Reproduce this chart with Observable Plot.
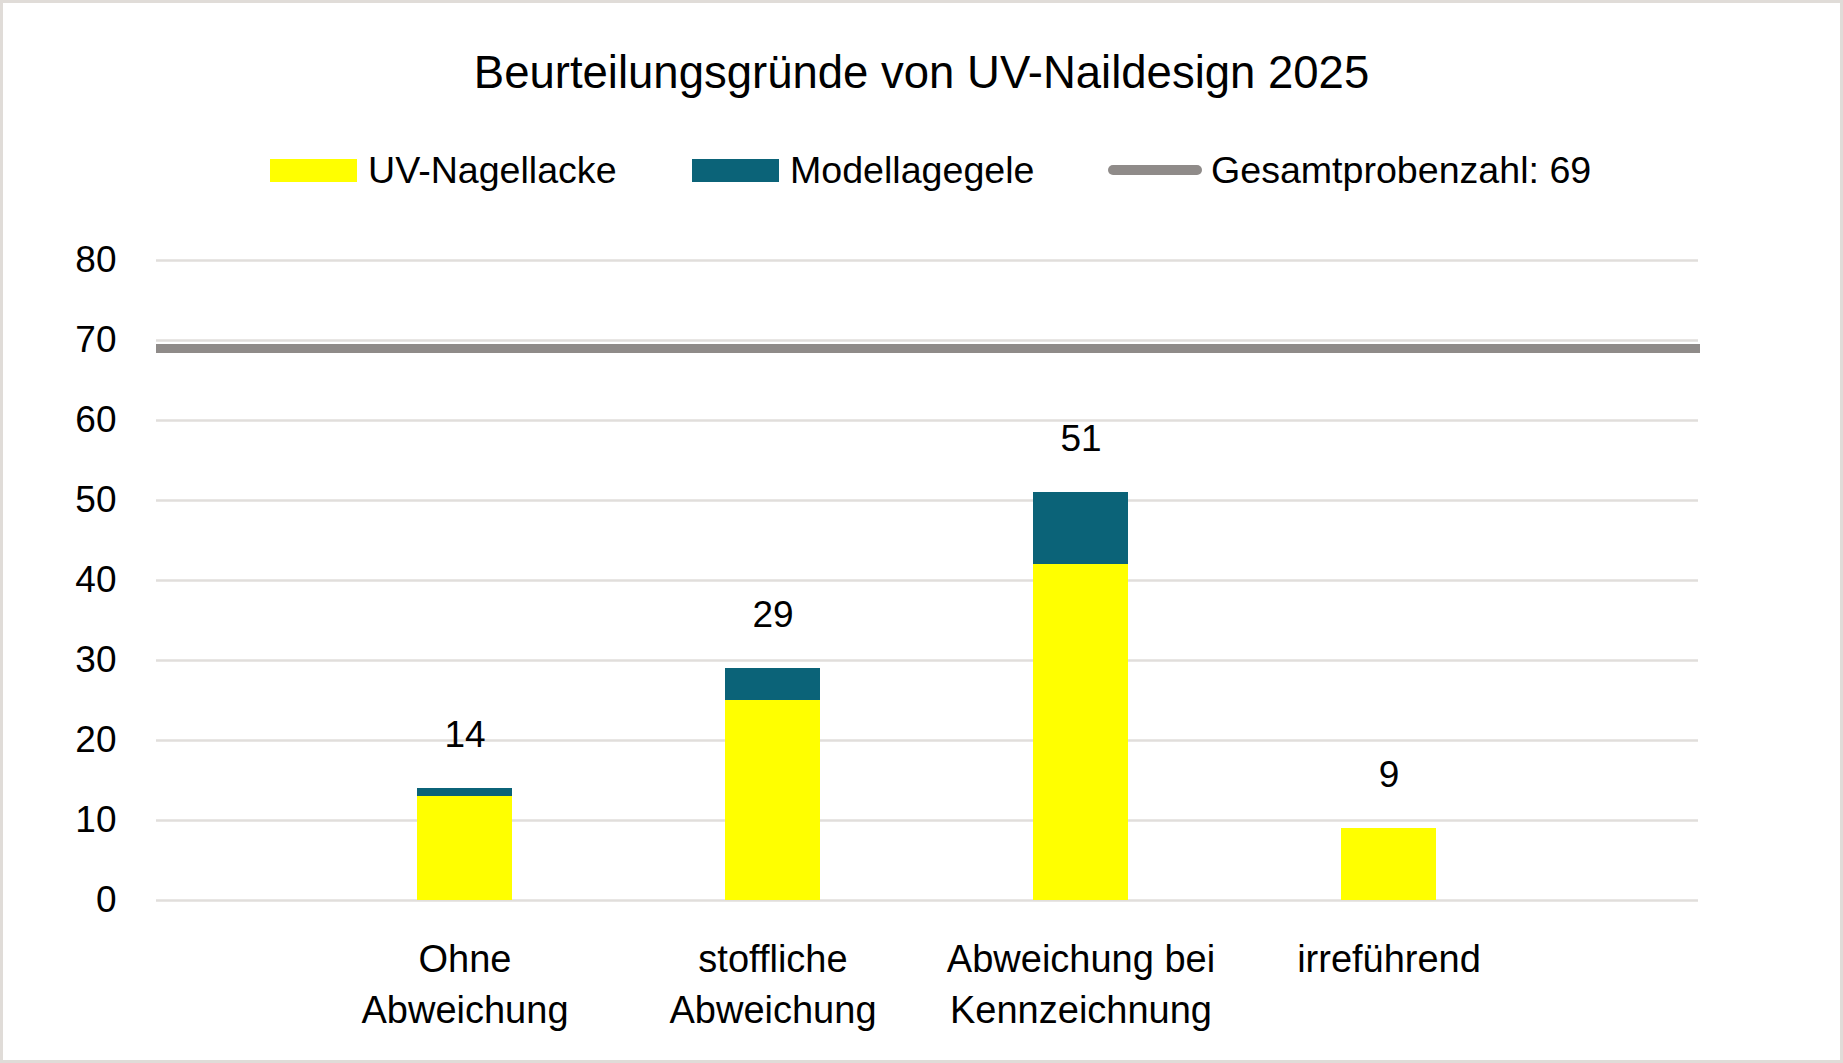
<!DOCTYPE html>
<html>
<head>
<meta charset="utf-8">
<script src="https://cdn.jsdelivr.net/npm/d3@7"></script>
<script src="https://cdn.jsdelivr.net/npm/@observablehq/plot@0.6"></script>
<style>
  html, body { margin: 0; padding: 0; background: #fff; }
  body { width: 1843px; height: 1063px; position: relative; overflow: hidden; font-family: "Liberation Sans", Arial, sans-serif; color: #000; }
  #frame { position: absolute; left: 0; top: 0; width: 1843px; height: 1063px; box-sizing: border-box; border: 3px solid #e0dcd8; pointer-events: none; z-index: 5; }
  #title { position: absolute; left: 0; width: 1843px; top: 46px; text-align: center; font-size: 45.5px; line-height: 54px; white-space: nowrap; }
  .leg { position: absolute; top: 148px; height: 44px; display: flex; align-items: center; font-size: 37.6px; white-space: nowrap; }
  .sw { width: 87px; height: 23px; margin-right: 11px; }
  .ln { width: 94px; height: 10px; border-radius: 5px; margin-right: 9px; }
  #chart { position: absolute; left: 0; top: 200px; }
</style>
</head>
<body>
<div id="frame"></div>
<div id="title"></div>
<div id="legend"></div>
<div id="chart"></div>
<script>
const title = "Beurteilungsgründe von UV-Naildesign 2025";
const categories = ["Ohne Abweichung", "stoffliche Abweichung", "Abweichung bei Kennzeichnung", "irreführend"];
const categoryLabels = ["Ohne\nAbweichung", "stoffliche\nAbweichung", "Abweichung bei\nKennzeichnung", "irreführend"];
const seriesNames = ["UV-Nagellacke", "Modellagegele"];
const uvNagellacke = [13, 25, 42, 9];
const modellagegele = [1, 4, 9, 0];
const totals = [14, 29, 51, 9];
const totalLabel = "Gesamtprobenzahl: 69";
const totalSamples = 69;
const yTicks = [0, 10, 20, 30, 40, 50, 60, 70, 80];
const seriesColors = ["#ffff00", "#0b6378"];
const totalColor = "#8f8b89";

document.getElementById("title").textContent = title;

// legend
const legend = document.getElementById("legend");
const legendItems = [
  {label: seriesNames[0], kind: "sw", color: seriesColors[0], left: 270},
  {label: seriesNames[1], kind: "sw", color: seriesColors[1], left: 692},
  {label: totalLabel, kind: "ln", color: totalColor, left: 1108}
];
for (const it of legendItems) {
  const d = document.createElement("div");
  d.className = "leg";
  d.style.left = it.left + "px";
  const s = document.createElement("div");
  s.className = it.kind;
  s.style.background = it.color;
  const t = document.createElement("span");
  t.textContent = it.label;
  d.appendChild(s); d.appendChild(t);
  legend.appendChild(d);
}

const data = [];
categories.forEach((c, i) => {
  data.push({cat: c, series: seriesNames[0], value: uvNagellacke[i]});
  data.push({cat: c, series: seriesNames[1], value: modellagegele[i]});
});
const totalData = categories.map((c, i) => ({cat: c, total: totals[i]}));
const labelOf = new Map(categories.map((c, i) => [c, categoryLabels[i]]));

const chart = Plot.plot({
  width: 1843,
  height: 863,
  marginTop: 60,
  marginBottom: 163,
  marginLeft: 156,
  marginRight: 145,
  style: {fontFamily: "'Liberation Sans', Arial, sans-serif", color: "#000", background: "transparent"},
  x: {type: "band", domain: categories, paddingInner: 0.69, paddingOuter: 0.345, insetLeft: 154, insetRight: 154},
  y: {domain: [0, 80]},
  color: {domain: seriesNames, range: seriesColors},
  marks: [
    Plot.ruleY(yTicks, {stroke: "#e1dedb", strokeWidth: 2.5}),
    Plot.barY(data, {x: "cat", y: "value", fill: "series"}),
    Plot.ruleY([totalSamples], {stroke: totalColor, strokeWidth: 9, insetRight: -2}),
    Plot.text(totalData, {x: "cat", y: "total", text: d => String(d.total), dy: -53, fontSize: 37, fill: "#000"}),
    Plot.axisY({ticks: yTicks, tickSize: 0, tickPadding: 40, fontSize: 37, tickFormat: d => String(d), label: null}),
    Plot.axisX({tickSize: 0, tickPadding: 35, fontSize: 38, lineHeight: 1.34, tickFormat: d => labelOf.get(d), label: null})
  ]
});
document.getElementById("chart").appendChild(chart);
</script>
</body>
</html>
